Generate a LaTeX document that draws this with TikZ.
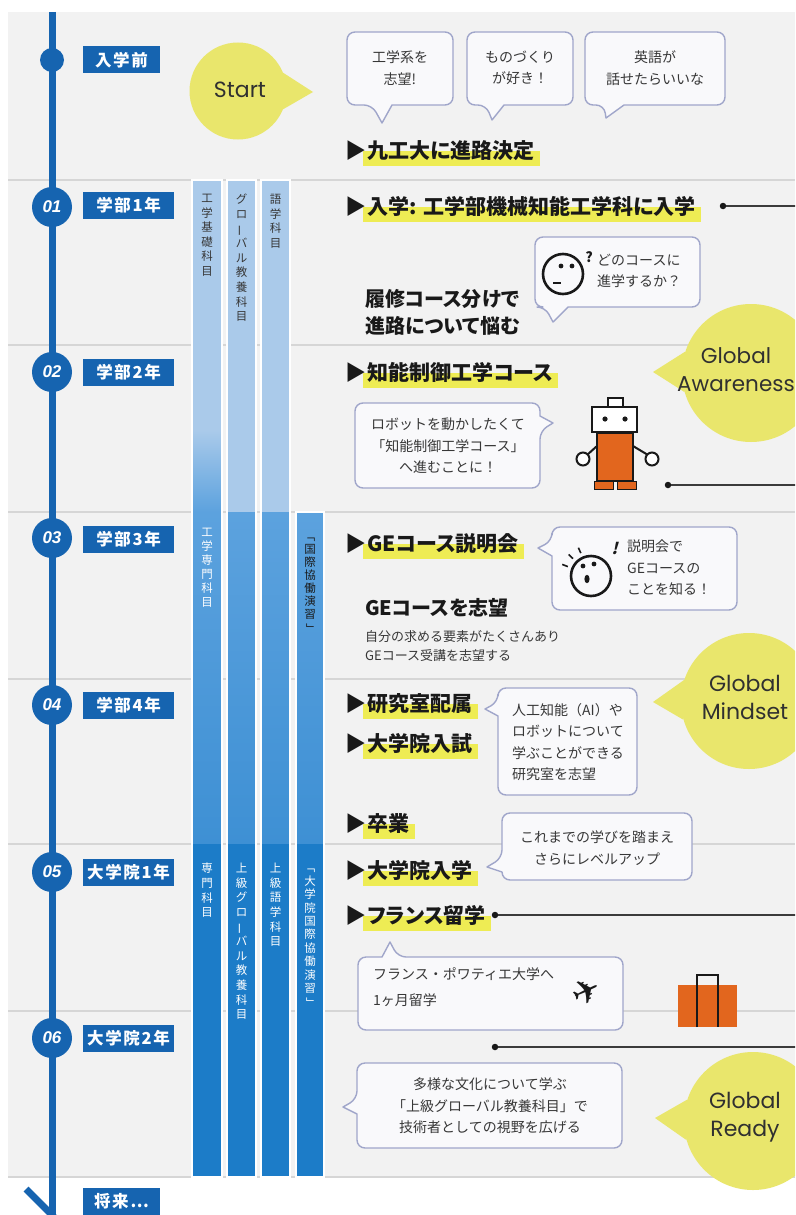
\documentclass[tikz,border=0pt]{standalone}
\usepackage{fontspec}
\usepackage{graphicx}
\setmainfont{Noto Sans CJK JP}
\newfontfamily\jpfont{Noto Sans CJK JP}
\newfontfamily\jphd{Noto Sans CJK JP}[RawFeature=+palt]
\newfontfamily\jpwide{Noto Sans CJK JP}[LetterSpace=10]
\newfontfamily\latfont{Poppins}
\newfontfamily\numfont{Liberation Sans}
\newfontfamily\symfont{DejaVu Sans}
\usetikzlibrary{calc}

\pgfdeclarelayer{bg}
\pgfdeclarelayer{hl}
\pgfsetlayers{bg,hl,main}

\definecolor{tlblue}{RGB}{22,100,176}
\definecolor{panel}{RGB}{242,242,242}
\definecolor{sepline}{RGB}{214,214,214}
\definecolor{colA}{RGB}{170,202,234}
\definecolor{colB}{RGB}{92,162,222}
\definecolor{colC}{RGB}{62,144,212}
\definecolor{colD}{RGB}{28,124,200}
\definecolor{yel}{RGB}{233,230,108}
\definecolor{hlyel}{RGB}{238,236,84}
\definecolor{bubline}{RGB}{160,166,202}
\definecolor{bubfill}{RGB}{249,249,251}
\definecolor{ink}{RGB}{25,25,25}
\definecolor{txt}{RGB}{55,55,55}
\definecolor{robo}{RGB}{226,102,30}

\tikzset{
  sep/.style={draw=sepline, line width=1.2},
  course/.style={draw=white, line width=2},
  tl/.style={draw=tlblue, line width=7},
  numc/.style={circle, fill=tlblue, minimum size=40, inner sep=0, text=white,
    font=\numfont\bfseries\itshape\fontsize{17}{17}\selectfont},
  yearlbl/.style={fill=tlblue, text=white, minimum height=27, inner sep=0,
    font=\jpwide\bfseries\fontsize{16.5}{16.5}\selectfont},
  hd/.style={inner sep=0, anchor=base west, text=ink,
    font=\jphd\bfseries\fontsize{21}{21}\selectfont},
  subhd/.style={inner sep=0, anchor=west, text=ink, align=left,
    font=\jphd\bfseries\fontsize{20}{27}\selectfont},
  note/.style={inner sep=0, anchor=west, text=txt, align=left,
    font=\jpfont\fontsize{13}{19}\selectfont},
  bub/.style={draw=bubline, fill=bubfill, line width=1.4, line join=round},
  bubtxt/.style={inner sep=0, text=txt, font=\jpfont\fontsize{14}{21.5}\selectfont},
  coltxt/.style={inner sep=0, anchor=north, align=center, text=txt,
    font=\jpfont\fontsize{11.5}{14.6}\selectfont},
  gcirc/.style={circle, fill=yel, inner sep=0},
  gtxt/.style={inner sep=0, align=center, text=ink!90,
    font=\latfont\fontsize{22}{28}\selectfont},
  dotc/.style={circle, fill=ink, minimum size=6.5, inner sep=0},
  conn/.style={draw=ink!85, line width=1.2},
  face/.style={draw=ink, line width=2.6},
}

% speech bubbles: x1 y1 x2 y2, tail base (two values along the edge), tail tip
\newcommand\bubbot[8]{\draw[bub] (#6,#4) [rounded corners=8] -- (#3,#4) -- (#3,#2) -- (#1,#2) -- (#1,#4) -- (#5,#4) [sharp corners] -- (#7,#8) -- cycle;}
\newcommand\bubleft[8]{\draw[bub] (#1,#6) [rounded corners=8] -- (#1,#4) -- (#3,#4) -- (#3,#2) -- (#1,#2) -- (#1,#5) [sharp corners] -- (#7,#8) -- cycle;}
\newcommand\bubright[8]{\draw[bub] (#3,#5) [rounded corners=8] -- (#3,#2) -- (#1,#2) -- (#1,#4) -- (#3,#4) -- (#3,#6) [sharp corners] -- (#7,#8) -- cycle;}
\newcommand\bubtop[8]{\draw[bub] (#5,#2) [rounded corners=8] -- (#1,#2) -- (#1,#4) -- (#3,#4) -- (#3,#2) -- (#6,#2) [sharp corners] -- (#7,#8) -- cycle;}

% event line with triangle mark and marker highlight
\newcommand\hdline[4]{%
  \node[hd] (#1m) at (#2,#3) {▶};
  \node[hd] (#1) at ([xshift=1pt]#1m.base east) {#4};
  \begin{pgfonlayer}{hl}
    \fill[hlyel] ($(#1.west)+(-4pt,-1pt)$) rectangle ($(#1.base east)+(5pt,-8pt)$);
  \end{pgfonlayer}}

% vertical writing helpers
\newcommand\vbar{\rotatebox[origin=c]{90}{ー}}
\newcommand\vopen{\rotatebox[origin=c]{-90}{「}}
\newcommand\vclose{\rotatebox[origin=c]{-90}{」}}

\begin{document}
\begin{tikzpicture}[x=1pt, y=-1pt]
\useasboundingbox (0,0) rectangle (795,1215);
\clip (0,0) rectangle (795,1215);

\begin{pgfonlayer}{bg}
  \fill[white] (0,0) rectangle (795,1215);
  \fill[panel] (8,12) rectangle (795,1177);
  \foreach \yy in {180,345,512,679,844,1011,1177}
    \draw[sep] (8,\yy) -- (795,\yy);
  % course columns
  \fill[colA] (192,180) rectangle (222,430);
  \shade[top color=colA, bottom color=colB] (192,430) rectangle (222,512);
  \foreach \xa/\xb in {192/222,227/256,261/290,296/324}{
    \shade[top color=colB, bottom color=colC] (\xa,512) rectangle (\xb,844);
    \fill[colD] (\xa,844) rectangle (\xb,1177);
  }
  \fill[colA] (227,180) rectangle (256,512);
  \fill[colA] (261,180) rectangle (290,512);
  \draw[course] (192,180) rectangle (222,1177);
  \draw[course] (227,180) rectangle (256,1177);
  \draw[course] (261,180) rectangle (290,1177);
  \draw[course] (296,512) rectangle (324,1177);
\end{pgfonlayer}

% course names
\node[coltxt] (c11) at (207,194) {工\\学\\基\\礎\\科\\目};
\node[coltxt] (c12) at (241.5,194) {グ\\ロ\\\vbar\\バ\\ル\\教\\養\\科\\目};
\node[coltxt] (c13) at (275.5,194) {語\\学\\科\\目};
\node[coltxt, text=white, font=\jpfont\fontsize{11.5}{14}\selectfont] (c31) at (207,528) {工\\学\\専\\門\\科\\目};
\node[coltxt, text=ink, font=\jpfont\fontsize{11.5}{13}\selectfont] (c34) at (310,530) {\vopen\\国\\際\\協\\働\\演\\習\\\vclose};
\node[coltxt, text=white] (c51) at (207,863) {専\\門\\科\\目};
\node[coltxt, text=white] (c52) at (241.5,863) {上\\級\\グ\\ロ\\\vbar\\バ\\ル\\教\\養\\科\\目};
\node[coltxt, text=white] (c53) at (275.5,863) {上\\級\\語\\学\\科\\目};
\node[coltxt, text=white, font=\jpfont\fontsize{11.5}{13.4}\selectfont] (c54) at (310,861) {\vopen\\大\\学\\院\\国\\際\\協\\働\\演\\習\\\vclose};

% timeline
\coordinate (tA) at (52,12);
\coordinate (tB) at (52,1218);
\coordinate (tC) at (26,1189);
\coordinate (tD) at (54,1217);
\draw[tl] (tA) -- (tB);
\draw[tl] (tC) -- (tD);
\node[circle, fill=tlblue, minimum size=24, inner sep=0] (t0) at (52,60) {};
\node[numc] (n1) at (52,207) {01};
\node[numc] (n2) at (52,372) {02};
\node[numc] (n3) at (52,538) {03};
\node[numc] (n4) at (52,705) {04};
\node[numc] (n5) at (52,872) {05};
\node[numc] (n6) at (52,1038) {06};

\node[yearlbl, minimum width=77] (yl0) at (121.5,60) {入学前};
\node[yearlbl, minimum width=91] (yl1) at (128.5,205) {学部1年};
\node[yearlbl, minimum width=91] (yl2) at (128.5,372) {学部2年};
\node[yearlbl, minimum width=91] (yl3) at (128.5,539) {学部3年};
\node[yearlbl, minimum width=91] (yl4) at (128.5,705) {学部4年};
\node[yearlbl, minimum width=91] (yl5) at (128.5,872) {大学院1年};
\node[yearlbl, minimum width=91] (yl6) at (128.5,1038) {大学院2年};
\node[yearlbl, minimum width=77] (ylf) at (121.5,1201) {将来…};

% ---- before entrance
\node[gcirc, minimum size=97] (sc) at (238,91) {};
\fill[yel] (313,92) -- (sc.22) -- (sc.-22) -- cycle;
\node[gtxt] (st) at (240,90) {Start};

\bubbot{347}{32}{453}{105}{372}{392}{382}{123}
\node[bubtxt, align=center] (b1) at (400,68) {工学系を\\志望!};
\bubbot{467}{32}{573}{105}{486}{504}{492}{120}
\node[bubtxt, align=center] (b2) at (520,68) {ものづくり\\が好き！};
\bubbot{585}{32}{725}{105}{604}{624}{606}{118}
\node[bubtxt, align=center] (b3) at (655,68) {英語が\\話せたらいいな};

\hdline{h0}{345}{158}{九工大に進路決定}

% ---- year 1
\hdline{h1}{345}{214}{入学: 工学部機械知能工学科に入学}
\node[dotc] (d1) at (723,206) {};
\coordinate (e1) at (796,206);
\draw[conn] (d1) -- (e1);

\bubbot{535}{237}{700}{307}{545}{568}{553}{322}
\draw[face] (563,274) circle (20);
\fill[ink] (561,266) circle (2.4);
\fill[ink] (572,266) circle (2.4);
\draw[ink, line width=2.4] (553,283) -- (561,283);
\node[inner sep=0, text=ink, font=\jpfont\bfseries\fontsize{14}{14}\selectfont] (q1) at (589,257) {?};
\node[bubtxt, align=left, anchor=west] (fq) at (597,271) {どのコースに\\進学するか？};

\node[subhd] (s1) at (365,312) {履修コース分けで\\進路について悩む};

% ---- year 2
\hdline{h2}{345}{380}{知能制御工学コース}

\node[gcirc, minimum size=138] (ga) at (751,373) {};
\fill[yel] (653,372) -- (ga.162) -- (ga.196) -- cycle;
\node[gtxt, font=\latfont\fontsize{21.5}{28}\selectfont] (gat) at (736,370) {Global\\Awareness};

\bubright{355}{403}{540}{488}{416}{431}{553}{423}
\node[bubtxt, align=center] (rb) at (448,446) {ロボットを動かしたくて\\「知能制御工学コース」\\へ進むことに！};

% robot
\draw[ink, line width=2, fill=white] (608,398) rectangle (623,407);
\draw[ink, line width=2, fill=white] (592,407) rectangle (637,432);
\fill[ink] (605,419) circle (2.6);
\fill[ink] (625,419) circle (2.6);
\draw[ink, line width=2] (597,446) -- (587,455);
\draw[ink, line width=2] (633,446) -- (648,455);
\draw[ink, line width=2, fill=white] (583,459) circle (6.5);
\draw[ink, line width=2, fill=white] (652,459) circle (6.5);
\draw[ink, line width=1.6, fill=robo] (597,433) rectangle (633,481);
\draw[ink, line width=1, fill=robo] (594,481) rectangle (613,489);
\draw[ink, line width=1, fill=robo] (617,481) rectangle (636,489);

\node[dotc] (d2) at (668,485) {};
\coordinate (e2) at (796,485);
\draw[conn] (d2) -- (e2);

% ---- year 3
\hdline{h3}{345}{551}{GEコース説明会}
\bubleft{552}{527}{737}{610}{541}{556}{538}{548}
\draw[face] (591,576) circle (20);
\fill[ink] (583,566) circle (2.4);
\fill[ink] (594,564) circle (2.4);
\fill[ink] (587,579) ellipse (2.6 and 4.2);
\foreach \ang in {202,224,246}
  \draw[ink, line width=1.6] ($(591,576)+(\ang:25)$) -- ($(591,576)+(\ang:31)$);
\node[inner sep=0, text=ink, font=\jpfont\bfseries\fontsize{16}{16}\selectfont, xslant=0.25] (x1) at (616,548) {!};
\node[bubtxt, align=left, anchor=west] (ge) at (627,568) {説明会で\\GEコースの\\ことを知る！};

\node[subhd, anchor=base west] (s2) at (365,615) {GEコースを志望};
\node[note] (s3) at (365,646) {自分の求める要素がたくさんあり\\GEコース受講を志望する};

% ---- year 4
\hdline{h4}{345}{711}{研究室配属}
\hdline{h5}{345}{751}{大学院入試}
\bubleft{498}{688}{637}{795}{702}{716}{485}{709}
\node[bubtxt, align=left, anchor=west] (lab) at (512,742) {人工知能（AI）や\\ロボットについて\\学ぶことができる\\研究室を志望};

\node[gcirc, minimum size=136] (gm) at (749,701) {};
\fill[yel] (653,702) -- (gm.162) -- (gm.196) -- cycle;
\node[gtxt] (gmt) at (745,697) {Global\\Mindset};

\hdline{h6}{345}{831}{卒業}

% ---- graduate year 1
\bubleft{502}{813}{692}{880}{858}{872}{487}{867}
\node[bubtxt, align=center] (lv) at (597,848) {これまでの学びを踏まえ\\さらにレベルアップ};
\hdline{h7}{345}{878}{大学院入学}
\hdline{h8}{345}{923}{フランス留学}
\node[dotc] (d3) at (495,915) {};
\coordinate (e3) at (796,915);
\draw[conn] (d3) -- (e3);

\bubtop{358}{957}{623}{1030}{382}{398}{390}{942}
\node[bubtxt, align=left, anchor=west, font=\jpfont\fontsize{14}{26}\selectfont] (fr) at (373,987) {フランス・ポワティエ大学へ\\1ヶ月留学};
\node[inner sep=0, text=ink, rotate=25, font=\symfont\fontsize{34}{34}\selectfont] (pl) at (586,992) {✈};

% suitcase
\fill[robo] (678,985) rectangle (737,1027);
\draw[ink, line width=1.6] (697,1027) -- (697,975) -- (718,975) -- (718,1027);

% ---- graduate year 2
\node[dotc] (d4) at (495,1047) {};
\coordinate (e4) at (796,1047);
\draw[conn] (d4) -- (e4);

\bubleft{357}{1063}{622}{1148}{1099}{1114}{343}{1107}
\node[bubtxt, align=center] (cu) at (490,1106) {多様な文化について学ぶ\\「上級グローバル教養科目」で\\技術者としての視野を広げる};

\node[gcirc, minimum size=138] (gr) at (753,1121) {};
\fill[yel] (655,1118) -- (gr.162) -- (gr.196) -- cycle;
\node[gtxt] (grt) at (745,1117) {Global\\Ready};
\end{tikzpicture}
\end{document}
